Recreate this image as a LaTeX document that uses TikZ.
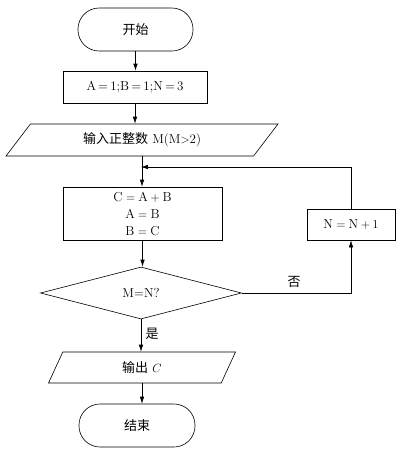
\documentclass[tikz,border=0pt]{standalone}
\usepackage{fontspec}
\newfontfamily\cjk{Noto Sans CJK SC}
\usetikzlibrary{shapes.geometric,arrows.meta}

\begin{document}
\begin{tikzpicture}[x=1pt, y=-1pt, font=\fontsize{13}{17}\selectfont]

    \tikzstyle{term} = [draw, rounded corners=21pt, minimum width=115pt,
        minimum height=43pt, inner sep=0pt]
    \tikzstyle{proc} = [draw, inner sep=0pt, align=center]
    \tikzstyle{io} = [draw, trapezium, trapezium stretches body=true, inner sep=0pt]
    \tikzstyle{cond} = [draw, diamond, inner sep=0pt, minimum width=201pt,
        minimum height=52pt]
    \tikzstyle{ann} = [font=\fontsize{13}{17}\cjk, inner sep=1pt]
    \tikzstyle{line} = [arrows=-{Latex[length=7pt,width=4.5pt]}, line width=.6pt]

    \useasboundingbox (0,0) rectangle (407,456);

    \begin{scope}[line width=.6pt]
    % Start and initial values
    \node[term] (start) at (135.5,29.5) {\cjk 开始};
    \node[proc, minimum width=144pt, minimum height=32pt] (init) at (135,87)
        {A\,=\,1;B\,=\,1;N\,=\,3};

    % Input M
    \node[io, trapezium left angle=30.2, trapezium right angle=149.8,
        minimum width=272pt, minimum height=32pt] (inp) at (142,140)
        {{\cjk 输入正整数} M(M$>$2)};

    % Loop body
    \node[proc, minimum width=159pt, minimum height=53pt] (calc) at (142.5,213.5)
        {$\mathrm{C}=\mathrm{A}+\mathrm{B}$\\$\mathrm{A}=\mathrm{B}$\\$\mathrm{B}=\mathrm{C}$};
    \node[proc, minimum width=88pt, minimum height=31pt] (nbox) at (351,224.5)
        {$\mathrm{N}=\mathrm{N}+1$};

    % Test
    \node[cond] (test) at (141,293) {M=N?};

    % Output and end
    \node[io, trapezium left angle=40, trapezium right angle=140,
        minimum width=187pt, minimum height=31pt] (outp) at (142,367.5)
        {{\cjk 输出} $C$};
    \node[term, minimum width=116pt] (stop) at (137,425.5) {\cjk 结束};
    \end{scope}

    % Connectors
    \coordinate (back) at (141,167);
    \draw[line] (start.south) -- (start.south |- init.north);
    \draw[line] (init.south) -- (init.south |- inp.north);
    \draw[line] (inp.south) -- (inp.south |- calc.north);
    \draw[line] (nbox.north) |- (back);
    \draw[line] (calc.south) -- (calc.south |- test.north);
    \draw[line] (test.east) -| (nbox.south);
    \draw[line] (test.south) -- (test.south |- outp.north);
    \draw[line] (outp.south) -- (outp.south |- stop.north);

    % Branch labels
    \node[ann] (no) at (294,282) {否};
    \node[ann] (yes) at (152,334) {是};

\end{tikzpicture}
\end{document}
